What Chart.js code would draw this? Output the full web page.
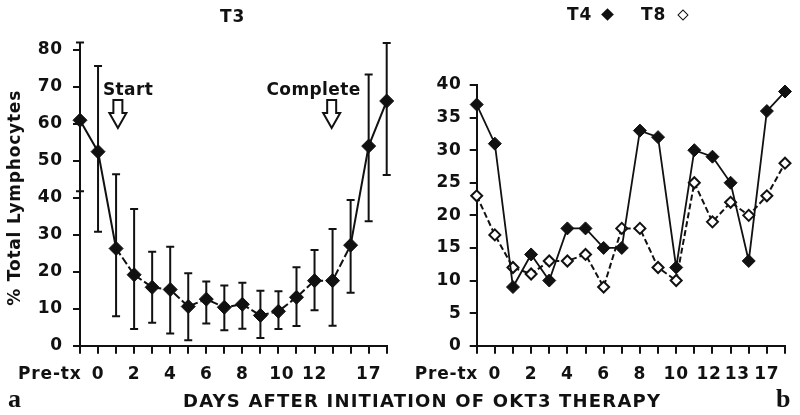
<!DOCTYPE html>
<html lang="en">
<head>
<meta charset="UTF-8">
<title>T3, T4 and T8 lymphocytes during OKT3 therapy</title>
<script src="https://cdn.jsdelivr.net/npm/chart.js"></script>
<style>
    body { margin: 0; background: #fff; }
    .wrap { position: relative; width: 800px; height: 415px; overflow: hidden; font-family: 'DejaVu Sans', sans-serif; font-weight: bold; color: #111; }
    canvas { position: absolute; top: 0; }
    #leftChart { left: 0; }
    #rightChart { left: 400px; }
    .txt { position: absolute; white-space: nowrap; }
    .panelTitle { font-size: 17px; line-height: 17px; letter-spacing: 1px; }
    .xTitle { left: 183px; top: 392px; font-size: 18px; line-height: 18px; letter-spacing: 1.2px; }
    .tag { top: 386px; font-family: 'Liberation Serif', serif; font-weight: bold; font-size: 26px; line-height: 26px; }
    .dia { display: inline-block; position: absolute; transform: rotate(45deg); box-sizing: border-box; }
</style>
</head>
<body>
<div class="wrap">
    <canvas id="leftChart" width="400" height="415"></canvas>
    <canvas id="rightChart" width="400" height="415"></canvas>

    <div class="txt panelTitle" style="left:220px; top:8px;">T3</div>
    <div class="txt panelTitle" style="left:567px; top:6px;">T4</div>
    <span class="dia" style="left:603px; top:10px; width:9px; height:9px; background:#111;"></span>
    <div class="txt panelTitle" style="left:641px; top:6px;">T8</div>
    <span class="dia" style="left:679px; top:11px; width:8px; height:8px; border:1.5px solid #111; background:#fff;"></span>

    <div class="txt xTitle">DAYS AFTER INITIATION OF OKT3 THERAPY</div>
    <div class="txt tag" style="left:8px;">a</div>
    <div class="txt tag" style="left:776px;">b</div>
</div>

<script>
    // tick labels (one per sampling point); spaces nudge crowded labels
    const leftDays  = ['Pre-tx         ', '0', '', '2', '', '4', '', '6', '', '8', '', ' 10', '', '12', '', '', '17', ''];
    const rightDays = ['Pre-tx         ', '0', '', '2', '', '4', '', '6', '', '8', '', '10', '', '12 ', '  13', '', '17', ''];

    // panel a: T3 mean with range
    const t3Mean = [61, 52.5, 26.3, 19.2, 15.8, 15.2, 10.6, 12.6, 10.4, 11.2, 8.2, 9.3, 13.1, 17.6, 17.6, 27.2, 54, 66.2];
    const t3High = [82, 75.7, 46.4, 37, 25.4, 26.8, 19.6, 17.4, 16.3, 17, 14.9, 14.7, 21.2, 25.9, 31.6, 39.4, 73.4, 81.9];
    const t3Low  = [41.8, 30.8, 8, 4.5, 6.2, 3.3, 1.5, 6, 4.2, 4.6, 2.1, 4.5, 5.3, 9.6, 5.4, 14.3, 33.7, 46.2];

    // panel b
    const t4 = [37, 31, 9, 14, 10, 18, 18, 15, 15, 33, 32, 12, 30, 29, 25, 13, 36, 39];
    const t8 = [23, 17, 12, 11, 13, 13, 14, 9, 18, 18, 12, 10, 25, 19, 22, 20, 23, 28];

    // treatment markers on panel a (category position, label)
    const markerAt = [2.1, 13.95];
    const markerText = ['Start', 'Complete'];
    const markerValue = 66.5;

    const INK = '#111';
    const tickFont = { family: 'DejaVu Sans', size: 17, weight: 'bold' };

    const spacing = {
        id: 'spacing',
        beforeUpdate(chart) { chart.ctx.letterSpacing = '0.8px'; },
        beforeDraw(chart) { chart.ctx.letterSpacing = '0.8px'; }
    };

    const errorBars = {
        id: 'errorBars',
        beforeDatasetsDraw(chart) {
            const {ctx, scales: {x, y}} = chart;
            ctx.save();
            ctx.strokeStyle = INK;
            ctx.lineWidth = 2;
            t3Low.forEach((lo, i) => {
                const px = x.getPixelForValue(i);
                const top = y.getPixelForValue(t3High[i]);
                const bot = y.getPixelForValue(lo);
                ctx.beginPath();
                ctx.moveTo(px, top); ctx.lineTo(px, bot);
                ctx.moveTo(px - 4, top); ctx.lineTo(px + 4, top);
                ctx.moveTo(px - 4, bot); ctx.lineTo(px + 4, bot);
                ctx.stroke();
            });
            ctx.restore();
        }
    };

    const arrows = {
        id: 'arrows',
        afterDatasetsDraw(chart) {
            const {ctx, scales: {x, y}} = chart;
            ctx.save();
            ctx.strokeStyle = INK;
            ctx.lineWidth = 2;
            ctx.lineJoin = 'miter';
            markerAt.forEach((pos, i) => {
                const cx = x.getPixelForValue(pos);
                const top = y.getPixelForValue(markerValue);
                ctx.beginPath();
                ctx.moveTo(cx - 4.5, top);
                ctx.lineTo(cx + 4.5, top);
                ctx.lineTo(cx + 4.5, top + 13);
                ctx.lineTo(cx + 8.5, top + 13);
                ctx.lineTo(cx, top + 28);
                ctx.lineTo(cx - 8.5, top + 13);
                ctx.lineTo(cx - 4.5, top + 13);
                ctx.closePath();
                ctx.fillStyle = '#fff';
                ctx.fill();
                ctx.stroke();

                ctx.fillStyle = INK;
                ctx.font = 'bold 17px "DejaVu Sans"';
                ctx.letterSpacing = '0.4px';
                ctx.textBaseline = 'alphabetic';
                if (i === 0) {
                    ctx.textAlign = 'left';
                    ctx.fillText(markerText[i], cx - 15, top - 5);
                } else {
                    ctx.textAlign = 'right';
                    ctx.fillText(markerText[i], cx + 29, top - 5);
                }
            });
            ctx.restore();
        }
    };

    function xAxis() {
        return {
            type: 'category',
            offset: false,
            grid: { drawOnChartArea: false, drawTicks: true, tickLength: 8, color: INK, lineWidth: 2 },
            border: { color: INK, width: 2 },
            ticks: { autoSkip: false, maxRotation: 0, minRotation: 0, color: INK, font: tickFont, padding: 11 },
            afterFit(s) { s.height = 45; }
        };
    }

    function yAxis(max, step, width, pad, title) {
        return {
            min: 0, max: max,
            grid: { drawOnChartArea: false, drawTicks: true, tickLength: 7, color: INK, lineWidth: 2 },
            border: { color: INK, width: 2 },
            ticks: { stepSize: step, color: INK, font: tickFont, padding: pad },
            title: title ? { display: true, text: title, color: INK, font: { family: 'DejaVu Sans', size: 17, weight: 'bold' }, padding: { top: 5, bottom: 0 } } : { display: false },
            afterFit(s) { s.width = width; }
        };
    }

    new Chart(document.getElementById('leftChart'), {
        type: 'line',
        data: {
            labels: leftDays,
            datasets: [{
                label: 'T3',
                data: t3Mean,
                borderColor: INK,
                borderWidth: 2,
                backgroundColor: INK,
                pointStyle: 'rectRot',
                pointRadius: 7,
                pointBackgroundColor: INK,
                pointBorderColor: INK,
                pointBorderWidth: 1,
                clip: false,
                segment: {
                    borderDash: c => (c.p0DataIndex >= 2 && c.p1DataIndex <= 15) ? [8, 3] : undefined
                }
            }]
        },
        options: {
            responsive: false,
            animation: false,
            layout: { padding: { left: 0, top: 50, right: 13.3, bottom: 24.3 } },
            plugins: { legend: { display: false }, tooltip: { enabled: false } },
            scales: {
                x: xAxis(),
                y: yAxis(80, 10, 80, 10, '% Total Lymphocytes')
            }
        },
        plugins: [spacing, errorBars, arrows]
    });

    new Chart(document.getElementById('rightChart'), {
        type: 'line',
        data: {
            labels: rightDays,
            datasets: [{
                label: 'T4',
                data: t4,
                borderColor: INK,
                borderWidth: 1.8,
                pointStyle: 'rectRot',
                pointRadius: 6.5,
                pointBackgroundColor: INK,
                pointBorderColor: INK,
                pointBorderWidth: 1,
                clip: false
            }, {
                label: 'T8',
                data: t8,
                borderColor: INK,
                borderWidth: 2,
                borderDash: [6, 3],
                pointStyle: 'rectRot',
                pointRadius: 5.5,
                pointBackgroundColor: '#fff',
                pointBorderColor: INK,
                pointBorderWidth: 2,
                clip: false
            }]
        },
        options: {
            responsive: false,
            animation: false,
            layout: { padding: { left: 0, top: 85, right: 15, bottom: 24.3 } },
            plugins: { legend: { display: false }, tooltip: { enabled: false } },
            scales: {
                x: xAxis(),
                y: yAxis(40, 5, 76.7, 8, null)
            }
        },
        plugins: [spacing]
    });
</script>
</body>
</html>
